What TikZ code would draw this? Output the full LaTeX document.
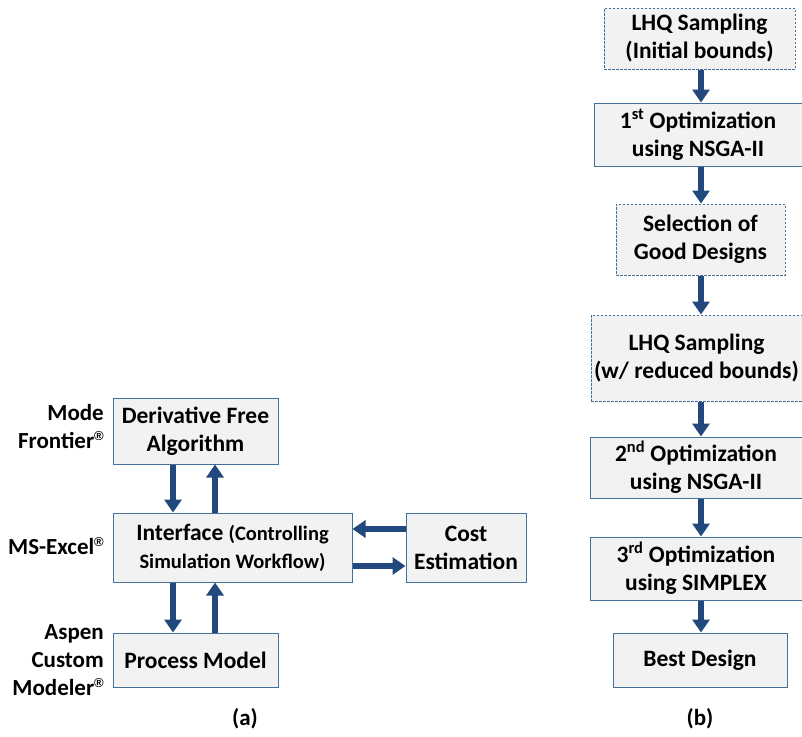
\documentclass[tikz,border=0pt]{standalone}
\usepackage{fontspec}
\setmainfont{Carlito}
\newfontfamily\regfont{Liberation Sans}
\usetikzlibrary{arrows.meta}
\definecolor{boxc}{HTML}{41719C}
\definecolor{boxfill}{HTML}{F2F2F2}
\definecolor{arrc}{HTML}{22497E}
\newcommand{\regmark}{\raisebox{0.75ex}{\regfont\fontsize{13}{13}\selectfont ®}}
\tikzset{
  box/.style={draw=boxc, fill=boxfill, line width=1pt, align=center, inner sep=0pt,
    font=\fontsize{23.5}{28}\selectfont\bfseries},
  dbox/.style={box, dash pattern=on 2.5pt off 1.5pt},
  lbl/.style={align=right, anchor=east, inner sep=0pt, font=\fontsize{23}{28}\selectfont\bfseries},
  captxt/.style={inner sep=0pt, font=\fontsize{23}{24}\selectfont\bfseries},
  bigarrow/.style={draw=arrc, line width=6pt, -{Triangle[width=17pt,length=13pt]}, fill=arrc}
}
\begin{document}
\begin{tikzpicture}[x=1pt,y=-1pt]
\useasboundingbox (0,0) rectangle (802,736);
% right column
\node[dbox, minimum width=191pt, minimum height=61pt] (b1) at (699.5,38.5) {LHQ Sampling\\(Initial bounds)};
\node[box, minimum width=208pt, minimum height=63pt] (b2) at (698,134.5) {1\textsuperscript{st} Optimization\\using NSGA-II};
\node[dbox, minimum width=169pt, minimum height=71pt] (b3) at (700.5,239.5) {Selection of\\Good Designs};
\node[dbox, minimum width=211pt, minimum height=86pt] (b4) at (696.5,358) {LHQ Sampling\\(w/ reduced bounds)};
\node[box, minimum width=212pt, minimum height=61pt] (b5) at (696,467.5) {2\textsuperscript{nd} Optimization\\using NSGA-II};
\node[box, minimum width=212pt, minimum height=63pt] (b6) at (696,568.5) {3\textsuperscript{rd} Optimization\\using SIMPLEX};
\node[box, minimum width=174pt, minimum height=54pt] (b7) at (700,660) {Best Design};
\coordinate (ax) at (701,0);
\draw[bigarrow] (b1.south -| ax) -- (b2.north -| ax);
\draw[bigarrow] (b2.south -| ax) -- (b3.north -| ax);
\draw[bigarrow] (b3.south -| ax) -- (b4.north -| ax);
\draw[bigarrow] (b4.south -| ax) -- (b5.north -| ax);
\draw[bigarrow] (b5.south -| ax) -- (b6.north -| ax);
\draw[bigarrow] (b6.south -| ax) -- (b7.north -| ax);
% left part
\node[box, minimum width=165pt, minimum height=66pt] (dfa) at (195.5,431) {Derivative Free\\Algorithm};
\node[box, minimum width=239pt, minimum height=69pt] (intf) at (232.5,547.5)
  {Interface {\fontsize{20.5}{28}\selectfont(Controlling}\\{\fontsize{20.5}{28}\selectfont Simulation Workflow)}};
\node[box, minimum width=120pt, minimum height=69pt] (cost) at (466,547.5) {Cost\\Estimation};
\node[box, minimum width=165pt, minimum height=54pt] (pm) at (195.5,660) {Process Model};
\coordinate (xa) at (173,0);
\coordinate (xb) at (215,0);
\coordinate (ya) at (0,529);
\coordinate (yb) at (0,566);
\draw[bigarrow] (dfa.south -| xa) -- (intf.north -| xa);
\draw[bigarrow] (intf.north -| xb) -- (dfa.south -| xb);
\draw[bigarrow] (intf.south -| xa) -- (pm.north -| xa);
\draw[bigarrow] (pm.north -| xb) -- (intf.south -| xb);
\draw[bigarrow] (cost.west |- ya) -- (intf.east |- ya);
\draw[bigarrow] (intf.east |- yb) -- (cost.west |- yb);
% labels
\node[lbl] (l1) at (104,427) {Mode\\Frontier\regmark};
\node[lbl] (l2) at (104,546) {MS-Excel\regmark};
\node[lbl] (l3) at (104,660) {Aspen\\Custom\\Modeler\regmark};
\node[captxt] (ca) at (245,719) {(a)};
\node[captxt] (cb) at (700,719) {(b)};
\end{tikzpicture}
\end{document}
